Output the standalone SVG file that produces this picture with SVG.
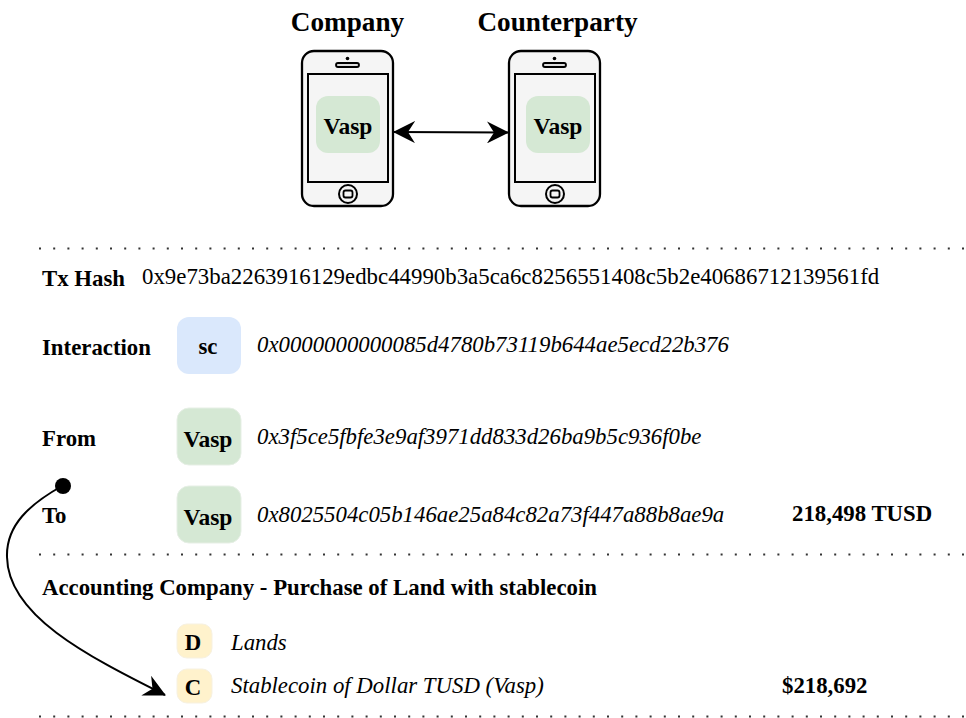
<svg xmlns="http://www.w3.org/2000/svg" width="966" height="718" viewBox="0 0 966 718">
<style>
text{font-family:"Liberation Serif","Times New Roman",serif;fill:#000}
.b{font-weight:bold;font-size:22.800px}
.i{font-style:italic;font-size:22.800px}
.v{font-weight:bold;font-size:23.500px;text-anchor:middle}
.t{font-weight:bold;font-size:27.200px;text-anchor:middle}
.m{text-anchor:middle}
.dot{fill:none;stroke:#333;stroke-width:2;stroke-dasharray:2 12.2}
.ph{fill:#f5f5f5;stroke:#000;stroke-width:2.3}
.g{fill:#d5e8d4;stroke:#e6efe5;stroke-width:1}
.y{fill:#fff2cc;stroke:#f7f1e0;stroke-width:1}
.conn{fill:none;stroke:#000;stroke-width:2}
</style>
<defs>
<marker id="ah" viewBox="0 0 22 22" refX="21" refY="11" markerWidth="22" markerHeight="22" markerUnits="userSpaceOnUse" orient="auto-start-reverse"><path d="M0 0L22 11L0 22L7 11Z" fill="#000"/></marker>
<g id="phone">
<rect class="ph" x="0" y="0" width="91" height="155" rx="12"/>
<rect x="6" y="23" width="80" height="108" fill="#f5f5f5" stroke="#000" stroke-width="2"/>
<circle cx="45.500" cy="7.500" r="1.800" fill="#000"/>
<rect x="34" y="12" width="23" height="4" rx="2" fill="#ddd" stroke="#000" stroke-width="1.800"/>
<circle cx="46" cy="143" r="9" fill="#f5f5f5" stroke="#000" stroke-width="2"/>
<rect x="41.500" y="139.500" width="9" height="7" rx="2" fill="none" stroke="#000" stroke-width="1.800"/>
</g>
</defs>
<g id="company">
<text x="347.500" y="31" class="t">Company</text>
<use href="#phone" x="302" y="51"/>
<rect class="g" x="316" y="96" width="64" height="57" rx="12" style="stroke:none"/>
<text x="348" y="134" class="v">Vasp</text>
</g>
<g id="counterparty">
<text x="557.500" y="31" class="t">Counterparty</text>
<use href="#phone" x="509" y="51"/>
<rect class="g" x="526" y="96" width="64" height="57" rx="12" style="stroke:none"/>
<text x="558" y="134" class="v">Vasp</text>
</g>
<g id="connectors">
<path class="conn" d="M394 132L508 132.500" marker-start="url(#ah)" marker-end="url(#ah)"/>
<path class="conn" d="M62 486C30 504 6 525 7 557C8 615 85 655 165 695" marker-end="url(#ah)"/>
<circle cx="63" cy="486" r="8" fill="#000"/>
</g>
<g id="separators">
<path class="dot" d="M39 248.500H966"/>
<path class="dot" d="M39 554.500H966"/>
<path class="dot" d="M39 716.500H966"/>
</g>
<g id="tx-hash">
<text x="42" y="286" class="b">Tx Hash</text>
<text x="142" y="284" style="font-size:22.850px">0x9e73ba2263916129edbc44990b3a5ca6c8256551408c5b2e40686712139561fd</text>
</g>
<g id="interaction">
<text x="42" y="355" class="b">Interaction</text>
<rect x="177" y="317" width="64" height="57" rx="12" fill="#dae8fc"/>
<text x="208" y="354" class="b m">sc</text>
<text x="257" y="352" class="i">0x0000000000085d4780b73119b644ae5ecd22b376</text>
</g>
<g id="from">
<text x="42" y="446" class="b">From</text>
<rect class="g" x="177" y="408" width="64" height="57" rx="12"/>
<text x="208" y="447" class="v">Vasp</text>
<text x="257" y="444" class="i">0x3f5ce5fbfe3e9af3971dd833d26ba9b5c936f0be</text>
</g>
<g id="to">
<text x="42" y="523" class="b">To</text>
<rect class="g" x="177" y="486" width="64" height="57" rx="12"/>
<text x="208" y="525" class="v">Vasp</text>
<text x="257" y="522" class="i">0x8025504c05b146ae25a84c82a73f447a88b8ae9a</text>
<text x="792" y="521" class="b">218,498 TUSD</text>
</g>
<g id="accounting">
<text x="42" y="595" class="b">Accounting Company - Purchase of Land with stablecoin</text>
</g>
<g id="debit">
<rect class="y" x="177" y="624" width="35" height="34" rx="10"/>
<text x="193" y="650" class="b m">D</text>
<text x="231" y="650" class="i">Lands</text>
</g>
<g id="credit">
<rect class="y" x="177" y="669" width="35" height="34" rx="10"/>
<text x="193" y="695" class="b m">C</text>
<text x="231" y="692.500" class="i">Stablecoin of Dollar TUSD (Vasp)</text>
<text x="782" y="692.500" class="b">$218,692</text>
</g>
</svg>
